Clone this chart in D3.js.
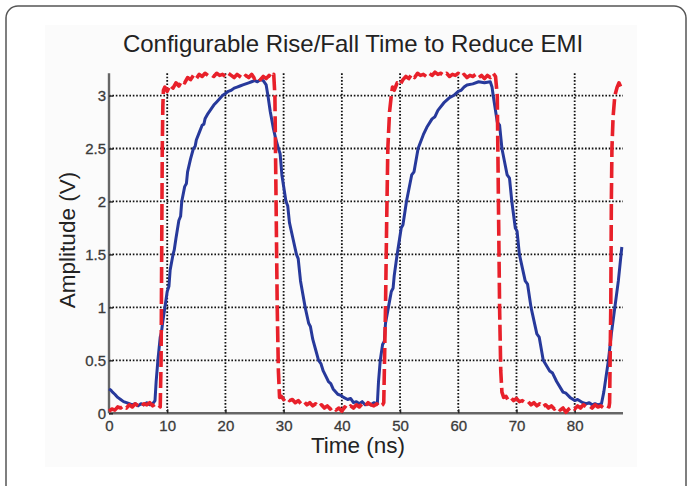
<!DOCTYPE html>
<html><head><meta charset="utf-8">
<script src="https://cdn.jsdelivr.net/npm/d3@7"></script>
<style>html,body{margin:0;padding:0;background:#fff;}svg{display:block;}</style>
</head><body>
<svg id="c" width="690" height="486"></svg>
<script>
const title = "Configurable Rise/Fall Time to Reduce EMI";
const xLabel = "Time (ns)";
const yLabel = "Amplitude (V)";
const xTicks = [0,10,20,30,40,50,60,70,80];
const yTicks = [0,0.5,1,1.5,2,2.5,3];
const yTickLabels = ["0","0.5","1","1.5","2","2.5","3"];

const redT = [0,0.5,1,1.5,2,2.5,3,3.5,4,4.5,5,5.5,6,6.5,7,7.5,8,8.5,8.8,8.95,9.05,9.15,9.25,9.35,
 9.6,10,10.5,11,11.5,12,12.5,13,13.5,14,14.5,15,15.5,16,16.5,17,17.5,18,18.5,19,19.5,20,20.5,21,21.5,22,22.5,23,23.5,24,24.5,25,25.5,26,26.5,27,27.5,28,28.3,
 28.5,28.7,28.9,29.1,29.3,
 29.6,30,30.5,31,31.5,32,32.5,33,33.5,34,34.5,35,35.5,36,36.5,37,37.5,38,38.5,39,39.5,40,40.5,41,41.5,42,42.5,43,43.5,44,44.5,45,45.5,46,46.5,47,
 47.2,47.5,47.7,47.9,48.2,48.5,48.7,
 49,49.5,50,50.5,51,51.5,52,52.5,53,53.5,54,54.5,55,55.5,56,56.5,57,57.5,58,58.5,59,59.5,60,60.5,61,61.5,62,62.5,63,63.5,64,64.5,65,65.5,66,66.4,
 66.7,66.9,67.1,67.3,67.5,67.8,
 68.2,68.5,69,69.5,70,70.5,71,71.5,72,72.5,73,73.5,74,74.5,75,75.5,76,76.5,77,77.5,78,78.5,79,79.5,80,80.5,81,81.5,82,82.5,83,83.5,84,84.5,85,85.5,85.9,
 86.0,86.2,86.3,86.4,86.6,86.9,87.3,87.6,88.1];
const redV = [0.02,0.04,0.03,0.06,0.05,0.07,0.05,0.08,0.06,0.09,0.07,0.06,0.09,0.08,0.10,0.07,0.09,0.08,0.06,0.5,1.5,2.5,2.9,3.05,
 3.08,3.04,3.10,3.07,3.12,3.09,3.14,3.12,3.17,3.15,3.19,3.16,3.20,3.18,3.21,3.19,3.20,3.18,3.21,3.19,3.20,3.18,3.21,3.19,3.17,3.20,3.18,3.16,3.19,3.17,3.20,3.16,3.18,3.15,3.18,3.16,3.19,3.17,3.20,
 3.0,2.0,1.0,0.4,0.15,
 0.16,0.13,0.15,0.12,0.13,0.10,0.12,0.09,0.11,0.08,0.10,0.07,0.09,0.06,0.08,0.05,0.07,0.04,0.06,0.03,0.05,0.02,0.06,0.04,0.07,0.05,0.08,0.06,0.09,0.07,0.10,0.08,0.07,0.09,0.06,0.08,
 0.1,1.0,1.8,2.5,2.85,3.0,3.08,
 3.05,3.12,3.10,3.15,3.18,3.16,3.20,3.17,3.21,3.19,3.20,3.18,3.21,3.19,3.22,3.20,3.21,3.19,3.21,3.18,3.20,3.19,3.21,3.18,3.20,3.17,3.19,3.18,3.20,3.17,3.19,3.16,3.19,3.17,3.21,3.18,
 3.0,2.0,1.0,0.4,0.2,0.15,
 0.16,0.13,0.15,0.12,0.14,0.11,0.12,0.10,0.11,0.08,0.10,0.07,0.09,0.06,0.08,0.05,0.07,0.04,0.06,0.03,0.05,0.01,0.04,0.06,0.04,0.07,0.05,0.08,0.06,0.07,0.05,0.08,0.06,0.07,0.05,0.07,0.06,
 0.1,1.0,2.0,2.5,2.8,3.0,3.08,3.12,3.06];

const blueT = [0,0.3,0.6,1,1.5,2,2.5,3,3.5,4,4.5,5,5.5,6,6.5,7,7.5,7.9,8.1,8.4,8.8,9.0,9.2,9.6,10,10.3,10.5,11,11.2,11.5,12,12.3,12.5,13,13.3,13.5,14,14.5,14.8,15,15.5,16,16.3,16.5,17,17.5,18,18.5,19,19.5,20,20.5,21,21.5,22,22.5,23,23.5,24,24.5,25,25.5,26,26.5,
 27,27.3,27.7,28.2,28.6,29.1,29.4,29.7,30.4,30.7,31,31.6,32.2,32.5,32.9,33.7,34.3,34.6,35,35.5,36,36.4,36.8,37.7,38.1,38.5,39.3,39.8,40.3,41,41.5,42,42.5,43,43.5,44,44.5,45,45.5,46.1,
 46.3,46.6,47,47.3,47.5,48,48.5,48.8,49,49.5,50.2,50.5,51.1,52,52.4,53.1,54,54.6,55.5,56,56.5,57.5,58.5,59.2,60,60.5,61,61.5,62.5,63.5,64.5,65.5,
 65.8,66,66.7,67.1,67.5,68.4,68.8,69.2,69.8,70.1,70.5,71.5,71.9,72.5,73.5,73.9,74.6,75.7,76.2,76.9,78,78.5,79.2,80,80.5,81.4,82,82.5,83,83.5,84,84.6,
 85,85.4,85.8,86.3,86.9,87.5,88.1];
const blueV = [0.23,0.22,0.20,0.18,0.15,0.13,0.11,0.10,0.09,0.08,0.09,0.07,0.09,0.08,0.10,0.08,0.09,0.12,0.3,0.5,0.72,0.76,0.85,1.0,1.15,1.2,1.35,1.5,1.54,1.65,1.82,1.86,2.0,2.14,2.17,2.28,2.40,2.5,2.52,2.58,2.65,2.72,2.73,2.78,2.83,2.87,2.91,2.94,2.97,3.0,3.02,3.04,3.05,3.07,3.08,3.09,3.10,3.11,3.12,3.13,3.14,3.13,3.15,3.14,
 3.10,3.0,2.85,2.7,2.6,2.5,2.45,2.25,2.0,1.96,1.8,1.65,1.5,1.46,1.25,1.0,0.85,0.82,0.7,0.6,0.5,0.47,0.4,0.3,0.28,0.23,0.18,0.17,0.15,0.13,0.14,0.10,0.11,0.09,0.11,0.08,0.09,0.08,0.10,0.09,
 0.3,0.5,0.65,0.68,0.85,1.0,1.15,1.18,1.3,1.5,1.75,1.78,2.0,2.25,2.28,2.5,2.63,2.7,2.78,2.8,2.86,2.93,2.98,3.0,3.04,3.05,3.08,3.1,3.11,3.13,3.12,3.13,
 3.08,3.0,2.75,2.72,2.5,2.25,2.22,2.0,1.75,1.72,1.5,1.25,1.22,1.0,0.75,0.72,0.5,0.4,0.38,0.3,0.2,0.19,0.15,0.12,0.13,0.1,0.09,0.1,0.08,0.09,0.08,0.09,
 0.2,0.35,0.5,0.75,1.0,1.25,1.57];

const svg = d3.select("#c");
const font = "Arial, 'Liberation Sans', sans-serif";

// outer frame
svg.append("rect").attr("x",6).attr("y",6).attr("width",680).attr("height",500)
  .attr("rx",12).attr("fill","#fff").attr("stroke","#555").attr("stroke-width",1.5);
// faint image background
svg.append("rect").attr("x",45).attr("y",25).attr("width",592).attr("height",442).attr("fill","#fbfbfb");

const x = d3.scaleLinear().domain([0,88.3]).range([109,623]);
const y = d3.scaleLinear().domain([0,3.21]).range([413.3,73.3]);

// grid
const g = svg.append("g");
g.selectAll(".vg").data(xTicks.slice(1)).join("line")
  .attr("x1",d=>x(d)).attr("x2",d=>x(d)).attr("y1",y(3.21)).attr("y2",y(0))
  .attr("stroke","#111").attr("stroke-width",1.8).attr("stroke-dasharray","1.6,1.8");
g.selectAll(".hg").data(yTicks.slice(1)).join("line")
  .attr("x1",x(0)).attr("x2",x(88.3)).attr("y1",d=>y(d)).attr("y2",d=>y(d))
  .attr("stroke","#111").attr("stroke-width",1.8).attr("stroke-dasharray","1.6,1.8");

// axes
const xAxis = d3.axisBottom(x).tickValues(xTicks).tickSize(-4).tickPadding(7).tickFormat(d3.format("d"));
const yAxis = d3.axisLeft(y).tickValues(yTicks).tickSize(-4).tickPadding(3).tickFormat((d,i)=>yTickLabels[i]);
const ax = svg.append("g").attr("transform",`translate(0,${y(0)})`).call(xAxis);
const ay = svg.append("g").attr("transform",`translate(${x(0)},0)`).call(yAxis);
[ax,ay].forEach(a=>{
  a.select(".domain").attr("stroke","#666").attr("stroke-width",2.4);
  a.selectAll(".tick line").attr("stroke","#222").attr("stroke-width",1.4);
  a.selectAll("text").attr("font-family",font).attr("font-size",15).attr("fill","#3a3a3a")
    .attr("stroke","#3a3a3a").attr("stroke-width",0.3);
});
ax.select(".domain").attr("d",`M${x(0)},0H${x(88.3)}`);
ay.select(".domain").attr("d",`M0,${y(3.21)}V${y(0)}`);

// lines
const line = d3.line().x(d=>x(d[0])).y(d=>y(d[1]));
const redData = redT.map((t,i)=>[t,redV[i]]);
const blueData = blueT.map((t,i)=>[t,blueV[i]]);
svg.append("path").datum(blueData).attr("d",line).attr("fill","none")
  .attr("stroke","#27399b").attr("stroke-width",3).attr("stroke-linejoin","round");
svg.append("path").datum(redData).attr("d",line).attr("fill","none")
  .attr("stroke","#e8202a").attr("stroke-width",3.6).attr("stroke-dasharray","16,5").attr("stroke-linejoin","round");

// texts
svg.append("text").attr("x",353).attr("y",52).attr("text-anchor","middle")
  .attr("font-family",font).attr("font-size",24).attr("fill","#222").text(title);
svg.append("text").attr("x",358).attr("y",453).attr("text-anchor","middle")
  .attr("font-family",font).attr("font-size",22.5).attr("fill","#222").text(xLabel);
svg.append("text").attr("transform","translate(75,240) rotate(-90)").attr("text-anchor","middle")
  .attr("font-family",font).attr("font-size",22.5).attr("fill","#222").text(yLabel);
</script>
</body></html>
